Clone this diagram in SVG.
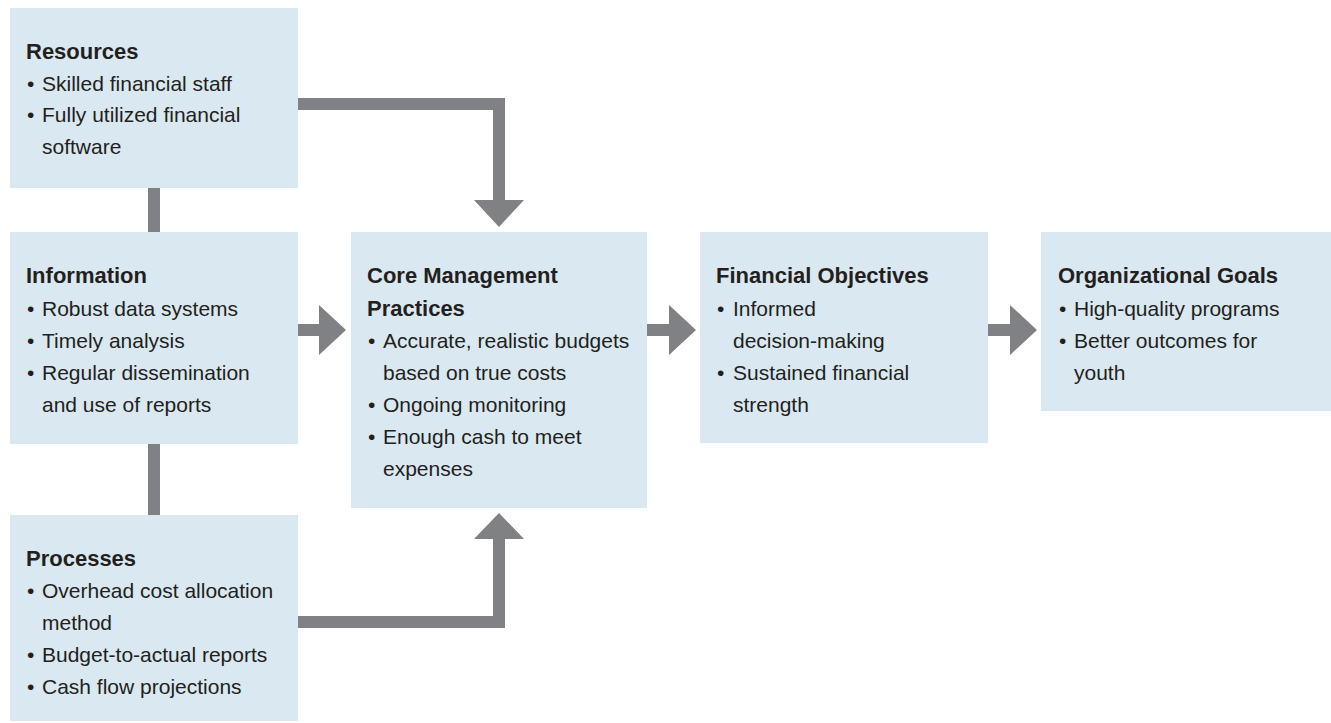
<svg xmlns="http://www.w3.org/2000/svg" width="1331" height="723" viewBox="0 0 1331 723">
<style>
.box{fill:#d9e8f1}
.arr{fill:#808185}
.t{font-family:"Liberation Sans",Arial,sans-serif;font-size:22px;font-weight:bold;fill:#231f20}
.b{font-family:"Liberation Sans",Arial,sans-serif;font-size:21px;fill:#231f20}
</style>
<rect width="1331" height="723" fill="#ffffff"/>
<g id="connectors">
<path class="arr" d="M298,98 H505 V200 H524 L499,227 L474,200 H493 V110 H298 Z"/>
<path class="arr" d="M298,628 H505 V539 H524 L499,513 L474,539 H493 V616 H298 Z"/>
<path class="arr" d="M298,324 H319 V305 L346,330 L319,355 V336 H298 Z"/>
<path class="arr" d="M647,324 H669 V305 L696,330 L669,355 V336 H647 Z"/>
<path class="arr" d="M988,324 H1010 V305 L1037,330 L1010,355 V336 H988 Z"/>
<rect class="arr" x="148" y="187" width="12" height="46"/>
<rect class="arr" x="148" y="443" width="12" height="73"/>
</g>
<g id="resources">
<rect class="box" x="10" y="8" width="288" height="180"/>
<text class="t" x="26" y="59">Resources</text>
<text class="b" x="27" y="91">•</text><text class="b" x="42" y="91">Skilled financial staff</text>
<text class="b" x="27" y="122">•</text><text class="b" x="42" y="122">Fully utilized financial</text>
<text class="b" x="42" y="154">software</text>
</g>
<g id="information">
<rect class="box" x="10" y="232" width="288" height="212"/>
<text class="t" x="26" y="283">Information</text>
<text class="b" x="27" y="316">•</text><text class="b" x="42" y="316">Robust data systems</text>
<text class="b" x="27" y="348">•</text><text class="b" x="42" y="348">Timely analysis</text>
<text class="b" x="27" y="380">•</text><text class="b" x="42" y="380">Regular dissemination</text>
<text class="b" x="42" y="412">and use of reports</text>
</g>
<g id="processes">
<rect class="box" x="10" y="515" width="288" height="206"/>
<text class="t" x="26" y="566">Processes</text>
<text class="b" x="27" y="598">•</text><text class="b" x="42" y="598">Overhead cost allocation</text>
<text class="b" x="42" y="630">method</text>
<text class="b" x="27" y="662">•</text><text class="b" x="42" y="662">Budget-to-actual reports</text>
<text class="b" x="27" y="694">•</text><text class="b" x="42" y="694">Cash flow projections</text>
</g>
<g id="core">
<rect class="box" x="351" y="232" width="296" height="276"/>
<text class="t" x="367" y="283">Core Management</text>
<text class="t" x="367" y="316">Practices</text>
<text class="b" x="368" y="348">•</text><text class="b" x="383" y="348">Accurate, realistic budgets</text>
<text class="b" x="383" y="380">based on true costs</text>
<text class="b" x="368" y="412">•</text><text class="b" x="383" y="412">Ongoing monitoring</text>
<text class="b" x="368" y="444">•</text><text class="b" x="383" y="444">Enough cash to meet</text>
<text class="b" x="383" y="476">expenses</text>
</g>
<g id="financial">
<rect class="box" x="700" y="232" width="288" height="211"/>
<text class="t" x="716" y="283">Financial Objectives</text>
<text class="b" x="717" y="316">•</text><text class="b" x="733" y="316">Informed</text>
<text class="b" x="733" y="348">decision-making</text>
<text class="b" x="717" y="380">•</text><text class="b" x="733" y="380">Sustained financial</text>
<text class="b" x="733" y="412">strength</text>
</g>
<g id="goals">
<rect class="box" x="1041" y="232" width="290" height="179"/>
<text class="t" x="1058" y="283">Organizational Goals</text>
<text class="b" x="1059" y="316">•</text><text class="b" x="1074" y="316">High-quality programs</text>
<text class="b" x="1059" y="348">•</text><text class="b" x="1074" y="348">Better outcomes for</text>
<text class="b" x="1074" y="380">youth</text>
</g>
</svg>
